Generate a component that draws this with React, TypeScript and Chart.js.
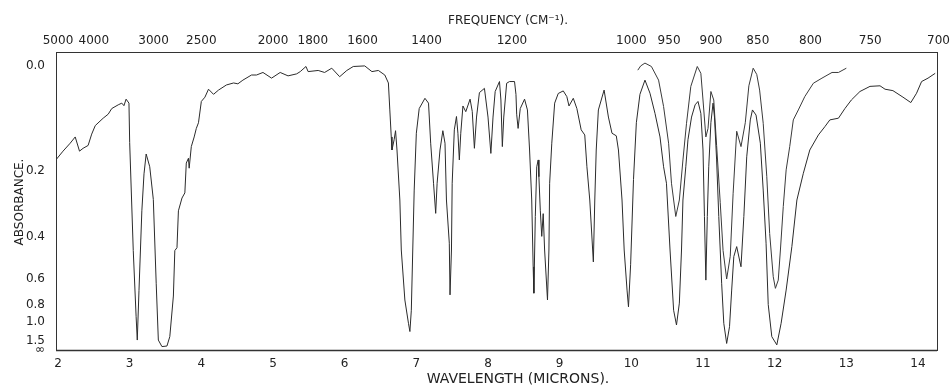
import React, { useEffect, useRef } from "react";
import { Chart, registerables } from "chart.js";

Chart.register(...registerables);

// Wavelength axis (microns), bottom
const wavelengthTicks = [2, 3, 4, 5, 6, 7, 8, 9, 10, 11, 12, 13, 14];
// Frequency axis (cm-1), top
const frequencyTicks = [5000, 4000, 3000, 2500, 2000, 1800, 1600, 1400, 1200, 1000, 950, 900, 850, 800, 750, 700];
// Absorbance axis (chart paper is linear in transmittance)
const absorbanceTicks = [0.0, 0.2, 0.4, 0.6, 0.8, 1.0, 1.5, Infinity];
const absorbanceLabels = ["0.0", "0.2", "0.4", "0.6", "0.8", "1.0", "1.5", "\u221E"];

// Main trace: [wavelength (µm), transmittance]
const mainSpectrum: [number, number][] = [
  [1.97, 0.669], [2.07, 0.70], [2.17, 0.728], [2.24, 0.75], [2.30, 0.70], [2.35, 0.71], [2.42, 0.72],
  [2.47, 0.76], [2.52, 0.79], [2.63, 0.816], [2.70, 0.83], [2.75, 0.85], [2.84, 0.863], [2.89, 0.869],
  [2.92, 0.86], [2.95, 0.883], [2.99, 0.869],
  [3.00, 0.73], [3.05, 0.35], [3.09, 0.117], [3.106, 0.035], [3.13, 0.21], [3.17, 0.49], [3.20, 0.62],
  [3.23, 0.69], [3.28, 0.645], [3.33, 0.53], [3.37, 0.235], [3.40, 0.035], [3.45, 0.012], [3.52, 0.014],
  [3.56, 0.047], [3.61, 0.19], [3.63, 0.35], [3.66, 0.36], [3.68, 0.49], [3.73, 0.535], [3.77, 0.553],
  [3.79, 0.658], [3.82, 0.675], [3.83, 0.64], [3.86, 0.716], [3.90, 0.75], [3.93, 0.78], [3.96, 0.80],
  [4.00, 0.875], [4.05, 0.89], [4.10, 0.918], [4.17, 0.90], [4.24, 0.915], [4.35, 0.933], [4.45, 0.94],
  [4.51, 0.937], [4.58, 0.95], [4.70, 0.968], [4.77, 0.968], [4.86, 0.977], [4.98, 0.957],
  [5.10, 0.977], [5.21, 0.965], [5.33, 0.972], [5.38, 0.98], [5.46, 0.998], [5.49, 0.98], [5.63, 0.984],
  [5.72, 0.977], [5.82, 0.992], [5.93, 0.962],
  [6.03, 0.984], [6.12, 0.998], [6.28, 1.0], [6.38, 0.98], [6.47, 0.984], [6.56, 0.968], [6.61, 0.94],
  [6.63, 0.845], [6.65, 0.75], [6.66, 0.704], [6.69, 0.74], [6.71, 0.772], [6.73, 0.704], [6.77, 0.528],
  [6.79, 0.352], [6.84, 0.176], [6.89, 0.094], [6.91, 0.065], [6.93, 0.14], [6.95, 0.352], [6.97, 0.563],
  [7.00, 0.763], [7.04, 0.85], [7.12, 0.886], [7.17, 0.869], [7.20, 0.728], [7.24, 0.587], [7.27, 0.481],
  [7.29, 0.587], [7.33, 0.704], [7.37, 0.772], [7.40, 0.728], [7.42, 0.528], [7.46, 0.376], [7.47, 0.194],
  [7.49, 0.352], [7.50, 0.587], [7.53, 0.775], [7.56, 0.822], [7.58, 0.763], [7.60, 0.669], [7.62, 0.763],
  [7.65, 0.859], [7.69, 0.839], [7.75, 0.883], [7.78, 0.84], [7.81, 0.71], [7.84, 0.82], [7.88, 0.906],
  [7.95, 0.921],
  [8.00, 0.82], [8.04, 0.692], [8.07, 0.82], [8.10, 0.91], [8.16, 0.945], [8.18, 0.88], [8.20, 0.716],
  [8.22, 0.82], [8.26, 0.939], [8.30, 0.945], [8.37, 0.945], [8.39, 0.90], [8.40, 0.83], [8.42, 0.78],
  [8.45, 0.85], [8.51, 0.883], [8.55, 0.845], [8.58, 0.704], [8.61, 0.528], [8.63, 0.293], [8.64, 0.2],
  [8.66, 0.47], [8.68, 0.645], [8.70, 0.669], [8.71, 0.61], [8.73, 0.49], [8.75, 0.40], [8.77, 0.48],
  [8.79, 0.352], [8.83, 0.176], [8.85, 0.352], [8.86, 0.587], [8.89, 0.728], [8.93, 0.869], [8.98, 0.903],
  [9.05, 0.912], [9.10, 0.892], [9.13, 0.859], [9.19, 0.886], [9.24, 0.85], [9.30, 0.775], [9.35, 0.757],
  [9.38, 0.645], [9.42, 0.528], [9.47, 0.31], [9.49, 0.528], [9.51, 0.704], [9.54, 0.845], [9.62, 0.915],
  [9.68, 0.82], [9.73, 0.763], [9.79, 0.754], [9.82, 0.704], [9.87, 0.528], [9.90, 0.352], [9.94, 0.211],
  [9.96, 0.152], [9.99, 0.30],
  [10.03, 0.60], [10.07, 0.80], [10.12, 0.90], [10.19, 0.95], [10.26, 0.904], [10.33, 0.833], [10.40, 0.75],
  [10.45, 0.645], [10.49, 0.587], [10.54, 0.352], [10.59, 0.14], [10.63, 0.088], [10.67, 0.165], [10.70, 0.352],
  [10.72, 0.528], [10.76, 0.645], [10.79, 0.74], [10.84, 0.82], [10.89, 0.863], [10.93, 0.875], [10.97, 0.833],
  [11.00, 0.704], [11.02, 0.47], [11.04, 0.246], [11.06, 0.47], [11.08, 0.645], [11.11, 0.80], [11.14, 0.869],
  [11.16, 0.82], [11.19, 0.669], [11.22, 0.47], [11.26, 0.235], [11.29, 0.094], [11.33, 0.023], [11.37, 0.082],
  [11.40, 0.211], [11.43, 0.329], [11.47, 0.364], [11.53, 0.293], [11.57, 0.47], [11.61, 0.68], [11.66, 0.81],
  [11.69, 0.845], [11.74, 0.827], [11.80, 0.728], [11.84, 0.563], [11.88, 0.376], [11.91, 0.16], [11.96, 0.047],
  [12.03, 0.018], [12.09, 0.094], [12.16, 0.211], [12.24, 0.364], [12.31, 0.528], [12.40, 0.622], [12.49, 0.704],
  [12.61, 0.757], [12.70, 0.786], [12.77, 0.81], [12.89, 0.816], [12.98, 0.85],
  [13.07, 0.88], [13.19, 0.91], [13.33, 0.928], [13.47, 0.93], [13.54, 0.918], [13.65, 0.913], [13.79, 0.89],
  [13.90, 0.871], [13.98, 0.904],
  [14.05, 0.945], [14.14, 0.957], [14.24, 0.974],
];

// Second (thinner sample) trace over 10–13 µm: [wavelength (µm), transmittance]
const thinSpectrum: [number, number][] = [
  [10.09, 0.985], [10.13, 1.0], [10.19, 1.01], [10.28, 0.998], [10.38, 0.95], [10.45, 0.857], [10.52, 0.728],
  [10.56, 0.587], [10.62, 0.47], [10.67, 0.528], [10.72, 0.669], [10.77, 0.798], [10.83, 0.928], [10.92, 0.998],
  [10.97, 0.974], [11.00, 0.88], [11.04, 0.75], [11.07, 0.78], [11.11, 0.91], [11.15, 0.88], [11.19, 0.72],
  [11.24, 0.52], [11.28, 0.35], [11.33, 0.25], [11.38, 0.33], [11.42, 0.55], [11.47, 0.77], [11.53, 0.716],
  [11.59, 0.80], [11.64, 0.93], [11.70, 0.992], [11.75, 0.97], [11.79, 0.915], [11.84, 0.798], [11.89, 0.61],
  [11.93, 0.41], [11.98, 0.258], [12.01, 0.217], [12.05, 0.246], [12.08, 0.352], [12.12, 0.505], [12.16, 0.634],
  [12.21, 0.716], [12.26, 0.81], [12.33, 0.845], [12.42, 0.892], [12.54, 0.939], [12.66, 0.957], [12.80, 0.977],
  [12.89, 0.977], [13.00, 0.992],
];

const topTitle = "FREQUENCY (CM\u207B\u00B9).";
const bottomTitle = "WAVELENGTH (MICRONS).";
const leftTitle = "ABSORBANCE.";

const FONT = '"DejaVu Sans", sans-serif';
const INK = "#222";

const decorPlugin = {
  id: "decor",
  afterDraw(chart: any) {
    const { ctx, chartArea: a } = chart;
    ctx.save();
    ctx.strokeStyle = "#333";
    ctx.lineWidth = 1;
    ctx.strokeRect(a.left + 0.5, a.top + 0.5, a.right - a.left, a.bottom - a.top);
    ctx.lineWidth = 1.6;
    ctx.beginPath();
    ctx.moveTo(a.left, a.bottom + 0.5);
    ctx.lineTo(a.right, a.bottom + 0.5);
    ctx.stroke();

    ctx.fillStyle = INK;
    ctx.textAlign = "center";
    ctx.textBaseline = "middle";
    ctx.font = `12px ${FONT}`;
    ctx.fillText(topTitle, 508, 21);
    ctx.font = `14px ${FONT}`;
    ctx.fillText(bottomTitle, 518, 379);
    ctx.font = `12px ${FONT}`;
    ctx.translate(20, 202);
    ctx.rotate(-Math.PI / 2);
    ctx.fillText(leftTitle, 0, 0);
    ctx.restore();
  },
};

function zeroPad(scale: any) {
  scale.paddingLeft = 0;
  scale.paddingRight = 0;
  scale.paddingTop = 0;
  scale.paddingBottom = 0;
}

export default function App() {
  const ref = useRef<HTMLCanvasElement | null>(null);

  useEffect(() => {
    if (!ref.current) return;
    const xMin = 1.972;
    const xMax = 14.265;
    const tickFont = { family: FONT, size: 12 };
    const chart = new Chart(ref.current, {
      type: "line",
      data: {
        datasets: [
          {
            label: "main",
            data: mainSpectrum.map(([x, y]) => ({ x, y })),
            borderColor: "#2b2b2b",
            borderWidth: 1,
            pointRadius: 0,
            tension: 0,
            fill: false,
          },
          {
            label: "thin",
            data: thinSpectrum.map(([x, y]) => ({ x, y })),
            borderColor: "#3a3a3a",
            borderWidth: 1,
            pointRadius: 0,
            tension: 0,
            fill: false,
          },
        ],
      },
      options: {
        animation: false,
        responsive: false,
        parsing: false as any,
        layout: { padding: { left: 0, right: 13, top: 0, bottom: 0 } },
        plugins: { legend: { display: false }, tooltip: { enabled: false } },
        scales: {
          x: {
            type: "linear",
            position: "bottom",
            min: xMin,
            max: xMax,
            grid: { display: false, drawTicks: false },
            border: { display: false },
            afterBuildTicks: (s: any) => {
              s.ticks = wavelengthTicks.map((v) => ({ value: v }));
            },
            afterFit: (s: any) => {
              s.height = 36;
              zeroPad(s);
            },
            ticks: {
              autoSkip: false,
              maxRotation: 0,
              minRotation: 0,
              padding: 7,
              color: INK,
              font: tickFont,
              callback: (v: any) => String(v),
            },
          },
          x2: {
            type: "linear",
            position: "top",
            min: xMin,
            max: xMax,
            grid: { display: false, drawTicks: false },
            border: { display: false },
            afterBuildTicks: (s: any) => {
              s.ticks = frequencyTicks.map((f) => ({ value: 10000 / f }));
            },
            afterFit: (s: any) => {
              s.height = 52;
              zeroPad(s);
            },
            ticks: {
              autoSkip: false,
              maxRotation: 0,
              minRotation: 0,
              padding: 4,
              color: INK,
              font: tickFont,
              callback: (_v: any, i: number) => String(frequencyTicks[i]),
            },
          },
          y: {
            type: "linear",
            position: "left",
            min: 0,
            max: 1.049,
            grid: { display: false, drawTicks: false },
            border: { display: false },
            afterBuildTicks: (s: any) => {
              s.ticks = absorbanceTicks.map((a) => ({ value: Math.pow(10, -a) }));
            },
            afterFit: (s: any) => {
              s.width = 56;
              zeroPad(s);
            },
            ticks: {
              autoSkip: false,
              padding: 11,
              color: INK,
              font: tickFont,
              callback: (_v: any, i: number) => absorbanceLabels[i],
            },
          },
        },
      },
      plugins: [decorPlugin],
    });
    return () => chart.destroy();
  }, []);

  return (
    <div style={{ position: "fixed", left: 0, top: 0, width: 950, height: 386, background: "#fff" }}>
      <canvas ref={ref} width={950} height={386} style={{ display: "block" }} />
    </div>
  );
}
